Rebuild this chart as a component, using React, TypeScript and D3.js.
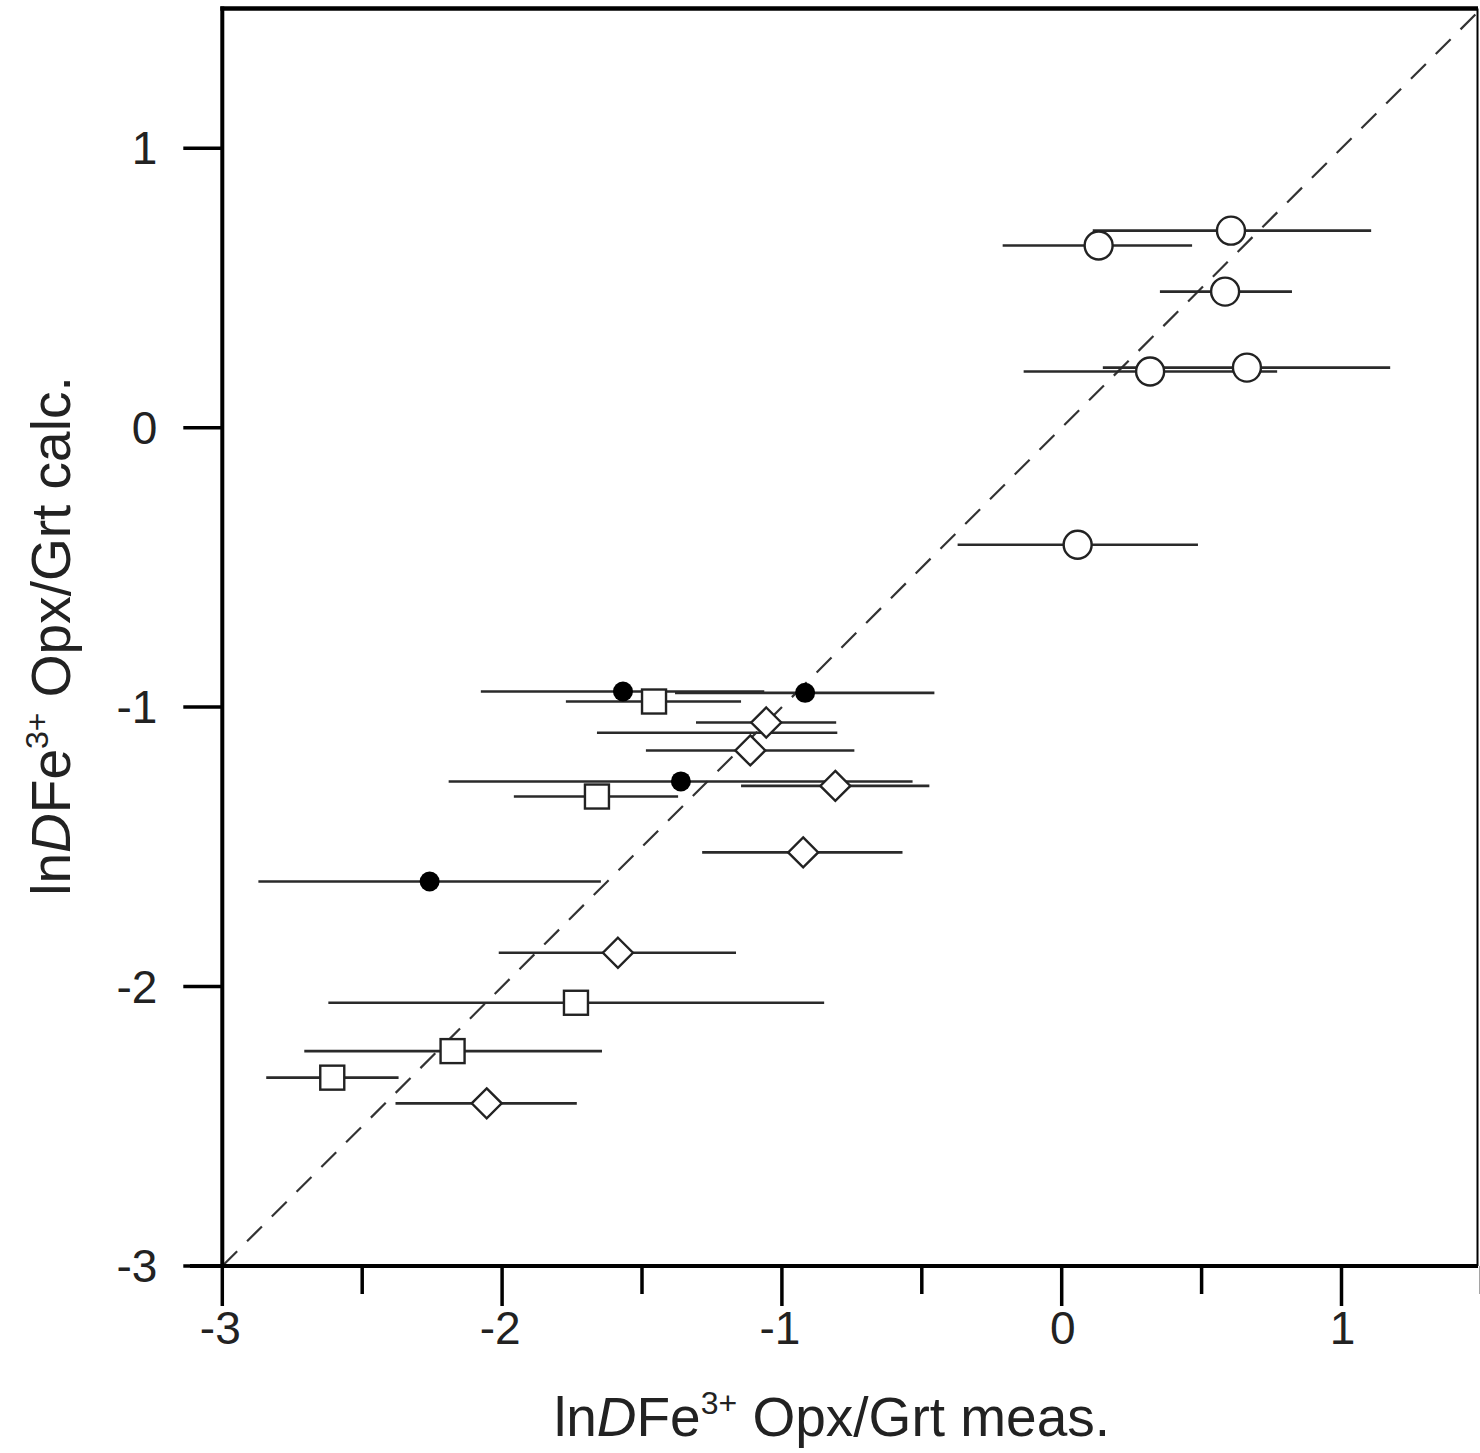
import { useEffect, useRef } from 'react';
import * as d3 from 'd3';

const xMajorTicks = [-3, -2, -1, 0, 1];
const xMinorTicks = [-2.5, -1.5, -0.5, 0.5, 1.5];
const yTicks = [-3, -2, -1, 0, 1];

// each row: [x, y, xLow, xHigh]
const openCircles = [
  [0.605, 0.705, 0.111, 1.106],
  [0.132, 0.652, -0.211, 0.466],
  [0.584, 0.487, 0.351, 0.823],
  [0.316, 0.201, -0.136, 0.77],
  [0.662, 0.215, 0.147, 1.174],
  [0.057, -0.419, -0.372, 0.487],
];

const filledCircles = [
  [-1.568, -0.944, -2.076, -1.063],
  [-0.917, -0.949, -1.382, -0.455],
  [-1.361, -1.266, -2.191, -0.533],
  [-2.259, -1.624, -2.871, -1.647],
];

const squares = [
  [-1.457, -0.98, -1.772, -1.146],
  [-1.661, -1.32, -1.958, -1.371],
  [-1.736, -2.058, -2.621, -0.849],
  [-2.177, -2.231, -2.707, -1.643],
  [-2.607, -2.326, -2.843, -2.37],
];

const diamonds = [
  [-1.056, -1.055, -1.307, -0.806],
  [-1.113, -1.155, -1.486, -0.741],
  [-0.809, -1.282, -1.146, -0.473],
  [-0.924, -1.52, -1.285, -0.569],
  [-1.586, -1.879, -2.012, -1.164],
  [-2.055, -2.418, -2.381, -1.733],
];

// error bar with no visible symbol: [y, xLow, xHigh]
const bareBars = [[-1.092, -1.661, -0.802]];

const W = 1480;
const H = 1453;

const App = () => {
  const svgRef = useRef(null);

  useEffect(() => {
    document.body.style.margin = '0';
    const svg = d3.select(svgRef.current);
    svg.selectAll('*').remove();

    const x = d3.scaleLinear().domain([-3, 1.5]).range([222.3, 1481.4]);
    const y = d3.scaleLinear().domain([-3, 1.5]).range([1266, 8.5]);

    const font = '"Liberation Sans", Arial, sans-serif';
    const ink = '#222';

    // 1:1 line
    svg
      .append('line')
      .attr('x1', x(-3))
      .attr('y1', y(-3))
      .attr('x2', x(1.5))
      .attr('y2', y(1.5))
      .attr('stroke', '#333')
      .attr('stroke-width', 2.2)
      .attr('stroke-dasharray', '21,14');

    // error bars
    const allRows = [...openCircles, ...filledCircles, ...squares, ...diamonds];
    const bars = svg.append('g').attr('stroke', '#2a2a2a').attr('stroke-width', 2.6);
    allRows.forEach((d) => {
      bars.append('line').attr('x1', x(d[2])).attr('x2', x(d[3])).attr('y1', y(d[1])).attr('y2', y(d[1]));
    });
    bareBars.forEach((d) => {
      bars.append('line').attr('x1', x(d[1])).attr('x2', x(d[2])).attr('y1', y(d[0])).attr('y2', y(d[0]));
    });

    // symbols
    const sym = svg.append('g').attr('stroke', ink).attr('stroke-width', 2.4);
    openCircles.forEach((d) => {
      sym.append('circle').attr('cx', x(d[0])).attr('cy', y(d[1])).attr('r', 14).attr('fill', '#fff');
    });
    squares.forEach((d) => {
      sym
        .append('rect')
        .attr('x', x(d[0]) - 12)
        .attr('y', y(d[1]) - 12)
        .attr('width', 24)
        .attr('height', 24)
        .attr('fill', '#fff');
    });
    diamonds.forEach((d) => {
      const cx = x(d[0]);
      const cy = y(d[1]);
      const r = 15;
      sym
        .append('path')
        .attr('d', `M${cx},${cy - r}L${cx + r},${cy}L${cx},${cy + r}L${cx - r},${cy}Z`)
        .attr('fill', '#fff');
    });
    filledCircles.forEach((d) => {
      sym.append('circle').attr('cx', x(d[0])).attr('cy', y(d[1])).attr('r', 10).attr('fill', '#000').attr('stroke', 'none');
    });

    // frame
    const frame = svg.append('g').attr('stroke', '#000').attr('fill', 'none');
    frame.append('line').attr('x1', x(-3)).attr('x2', x(-3)).attr('y1', y(1.5) - 2).attr('y2', y(-3)).attr('stroke-width', 4);
    frame.append('line').attr('x1', x(-3) - 2).attr('x2', W - 2).attr('y1', y(1.5)).attr('y2', y(1.5)).attr('stroke-width', 4.5);
    frame.append('line').attr('x1', W - 2.5).attr('x2', W - 2.5).attr('y1', y(1.5)).attr('y2', y(-3)).attr('stroke-width', 2);
    frame.append('line').attr('x1', 190).attr('x2', W - 2).attr('y1', y(-3)).attr('y2', y(-3)).attr('stroke-width', 4);

    // x ticks
    const xt = svg.append('g').attr('stroke', '#000').attr('stroke-width', 3.5);
    xMajorTicks.forEach((t) => {
      xt.append('line').attr('x1', x(t)).attr('x2', x(t)).attr('y1', y(-3)).attr('y2', y(-3) + 40);
    });
    xMinorTicks.forEach((t) => {
      xt.append('line').attr('x1', x(t)).attr('x2', x(t)).attr('y1', y(-3)).attr('y2', y(-3) + 28);
    });
    svg
      .append('g')
      .attr('font-family', font)
      .attr('font-size', 46)
      .attr('fill', ink)
      .attr('text-anchor', 'middle')
      .selectAll('text')
      .data(xMajorTicks)
      .join('text')
      .attr('x', (t) => x(t) + (t < 0 ? -2 : 1))
      .attr('y', y(-3) + 78)
      .text((t) => (t < 0 ? `-${Math.abs(t)}` : `${t}`));

    // y ticks
    const yt = svg.append('g').attr('stroke', '#000').attr('stroke-width', 3.5);
    yTicks.forEach((t) => {
      yt.append('line').attr('x1', x(-3) - 39).attr('x2', x(-3)).attr('y1', y(t)).attr('y2', y(t));
    });
    svg
      .append('g')
      .attr('font-family', font)
      .attr('font-size', 46)
      .attr('fill', ink)
      .attr('text-anchor', 'end')
      .selectAll('text')
      .data(yTicks)
      .join('text')
      .attr('x', x(-3) - 65)
      .attr('y', (t) => y(t) + 16)
      .text((t) => (t < 0 ? `-${Math.abs(t)}` : `${t}`));

    // axis titles
    const addTitle = (g, rest) => {
      const t = g.append('text').attr('font-family', font).attr('font-size', 55).attr('fill', ink).attr('text-anchor', 'middle');
      t.append('tspan').text('ln');
      t.append('tspan').attr('font-style', 'italic').text('D');
      t.append('tspan').text('Fe');
      t.append('tspan').attr('font-size', 32).attr('dy', -22).text('3+');
      t.append('tspan').attr('dy', 22).text(rest);
      return t;
    };
    addTitle(svg.append('g').attr('transform', `translate(832,1436)`), ' Opx/Grt meas.');
    addTitle(svg.append('g').attr('transform', `translate(70,636) rotate(-90)`), ' Opx/Grt calc.');
  }, []);

  return <svg ref={svgRef} width={W} height={H} style={{ display: 'block', background: '#fff' }} />;
};

export default App;
